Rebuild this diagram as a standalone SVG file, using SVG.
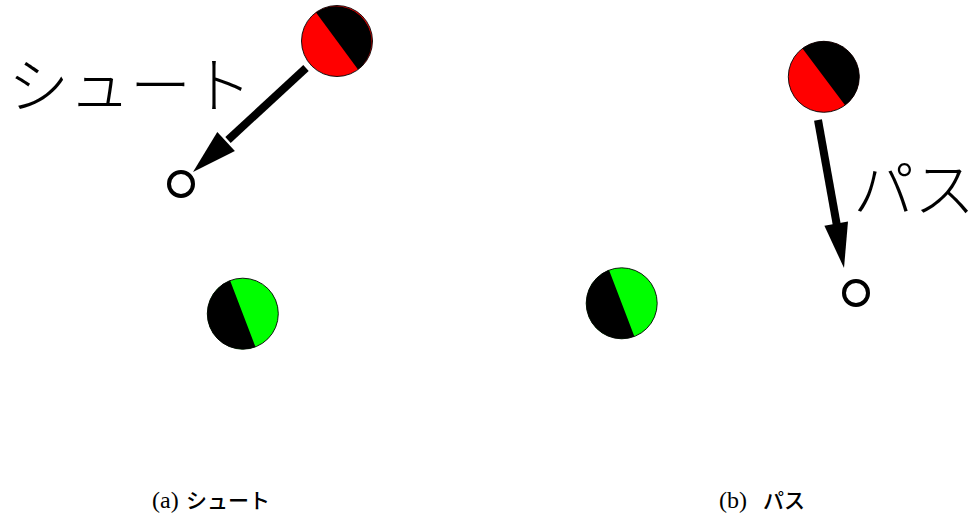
<svg xmlns="http://www.w3.org/2000/svg" width="975" height="517" viewBox="0 0 975 517">
<style>
.edge{stroke:#000;stroke-width:0.9}
.half{fill:#000}
.target{fill:#fff;stroke:#000;stroke-width:4}
.shaft{stroke:#000;stroke-width:8;fill:none}
.head{fill:#000}
.big{font-family:"Noto Sans CJK JP",sans-serif;font-size:61px;font-weight:300;fill:#000}
.capl{font-family:"Liberation Serif",serif;font-size:24px;fill:#000}
.capj{font-family:"Noto Sans CJK JP",sans-serif;font-size:21px;font-weight:500;fill:#000}
</style>
<rect width="975" height="517" fill="#fff"/>
<g id="red-a">
<circle cx="337" cy="41" r="35.5" fill="#ff0000" class="edge"/>
<path class="half" d="M316,12.4 A35.5 35.5 0 0 1 358,69.6 Z"/>
</g>
<g id="green-a">
<circle cx="242.8" cy="313.7" r="35.5" fill="#00ff00" class="edge"/>
<path class="half" d="M230.1,280.5 A35.5 35.5 0 0 0 255.5,346.9 Z"/>
</g>
<g id="target-a">
<circle cx="181" cy="184" r="12" class="target"/>
</g>
<g id="red-b">
<circle cx="823.8" cy="76.8" r="35.5" fill="#ff0000" class="edge"/>
<path class="half" d="M802.5,48.4 A35.5 35.5 0 0 1 845.1,105.2 Z"/>
</g>
<g id="green-b">
<circle cx="621.7" cy="303.3" r="35.5" fill="#00ff00" class="edge"/>
<path class="half" d="M609,270.1 A35.5 35.5 0 0 0 634.4,336.5 Z"/>
</g>
<g id="target-b">
<circle cx="856" cy="293" r="12" class="target"/>
</g>
<g id="connectors">
<line class="shaft" x1="306" y1="68" x2="228" y2="140"/>
<polygon class="head" points="193,172 234.9,151.1 217.3,131.9"/>
<line class="shaft" x1="818" y1="120" x2="837" y2="226"/>
<polygon class="head" points="844,268 848,221.6 824.4,225.8"/>
</g>
<g id="labels">
<text class="big" x="8" y="108">シュート</text>
<text class="big" x="853" y="212">パス</text>
<text class="capl" x="152" y="508">(a)</text>
<text class="capj" x="186" y="508">シュート</text>
<text class="capl" x="719" y="508">(b)</text>
<text class="capj" x="763" y="508">パス</text>
</g>
</svg>
